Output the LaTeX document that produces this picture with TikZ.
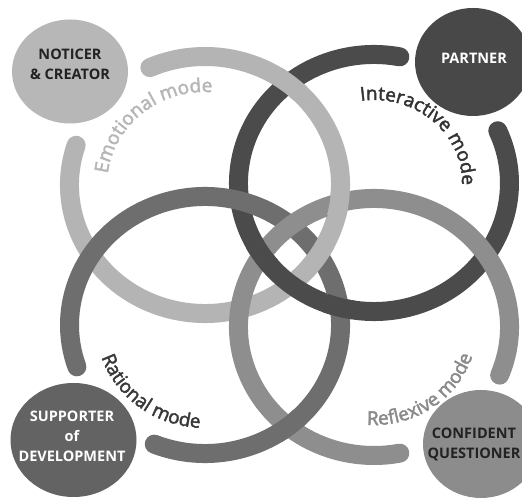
\documentclass[tikz,border=0pt]{standalone}
\usepackage{fontspec}
\setmainfont{Open Sans}
\newfontface\modeface{Open Sans}[FakeBold=2.2]
\usetikzlibrary{decorations.text}

\definecolor{emoring}{HTML}{B4B4B4}
\definecolor{intring}{HTML}{4B4B4B}
\definecolor{ratring}{HTML}{6E6E6E}
\definecolor{refring}{HTML}{8E8E8E}
\definecolor{emotext}{HTML}{B6B6B6}
\definecolor{inttext}{HTML}{333333}
\definecolor{rattext}{HTML}{383838}
\definecolor{reftext}{HTML}{8A8A8A}
\definecolor{noticerfill}{HTML}{B7B7B7}
\definecolor{partnerfill}{HTML}{484848}
\definecolor{supporterfill}{HTML}{636363}
\definecolor{confidentfill}{HTML}{8C8C8C}
\definecolor{labeldark}{HTML}{222222}

\newcommand\modefont{\modeface\fontsize{19}{19}\selectfont}

\begin{document}
\begin{tikzpicture}[x=1pt,y=1pt,
  ring/.style={line width=19pt, line cap=round},
  weave/.style={line width=19pt},
  ringshape/.style={x radius=135.5, y radius=128.5},
  cornerlabel/.style={align=center, font=\fontsize{14.5}{20}\selectfont\bfseries, inner sep=0pt},
  modelabel/.style={decorate, decoration={text along path, text align=center, text color=#1}}]

\useasboundingbox (0,0) rectangle (522,500);
\fill[white] (0,0) rectangle (522,500);

% ring centres
\coordinate (cE) at (205,315);
\coordinate (cI) at (374,317);
\coordinate (cRa) at (205,175);
\coordinate (cRf) at (374,173);

% the four rings, each open towards its corner disc
\draw[ring, emoring] (cE) ++(162:135.5 and 128.5) arc[ringshape, start angle=162, end angle=474];
\draw[ring, intring] (cI) ++(79:135.5 and 128.5) arc[ringshape, start angle=79, end angle=384];
\draw[ring, ratring] (cRa) ++(248:135.5 and 128.5) arc[ringshape, start angle=248, end angle=559];
\draw[ring, refring] (cRf) ++(338:135.5 and 128.5) arc[ringshape, start angle=338, end angle=641];

% over/under at the crossings
\begin{scope}
  \clip (289.5,416.5) circle (17);
  \draw[weave, emoring] (cE) ellipse[ringshape];
\end{scope}
\begin{scope}
  \clip (318.6,245) circle (17);
  \draw[weave, emoring] (cE) ellipse[ringshape];
\end{scope}
\begin{scope}
  \clip (339.2,297.1) circle (17);
  \draw[weave, emoring] (cE) ellipse[ringshape];
\end{scope}
\begin{scope}
  \clip (339.2,192.8) circle (17);
  \draw[weave, intring] (cI) ellipse[ringshape];
\end{scope}
\begin{scope}
  \clip (261.8,245) circle (17);
  \draw[weave, intring] (cI) ellipse[ringshape];
\end{scope}
\begin{scope}
  \clip (289.5,73.5) circle (17);
  \draw[weave, ratring] (cRa) ellipse[ringshape];
\end{scope}

% mode names along the inside of each ring
\path[modelabel=emotext, decoration={text={|\modefont|Emotional mode}}]
  (cE) ++(200:98 and 93) arc[start angle=200, end angle=60, x radius=98, y radius=93];
\path[modelabel=inttext, decoration={text={|\modefont|Interactive mode}}]
  (cI) ++(120:88 and 83) arc[start angle=120, end angle=-24, x radius=88, y radius=83];
\path[modelabel=rattext, decoration={text={|\modefont|Rational mode}}]
  (cRa) ++(165:109 and 103) arc[start angle=165, end angle=299, x radius=109, y radius=103];
\path[modelabel=reftext, decoration={text={|\modefont|Reflexive mode}}]
  (cRf) ++(240:103 and 98) arc[start angle=240, end angle=370, x radius=103, y radius=98];

% corner discs
\fill[noticerfill] (70,428.5) ellipse[x radius=58, y radius=52];
\fill[partnerfill] (473,438) ellipse[x radius=58, y radius=54];
\fill[supporterfill] (73.5,60) ellipse[x radius=63, y radius=57];
\fill[confidentfill] (481,56) ellipse[x radius=58, y radius=54];

\node[cornerlabel, text=labeldark] (noticer) at (70,436) {NOTICER\\\& CREATOR};
\node[cornerlabel, text=white] (partner) at (474,442) {PARTNER};
\node[cornerlabel, text=white] (supporter) at (72,64) {SUPPORTER\\of\\DEVELOPMENT};
\node[cornerlabel, text=labeldark] (confident) at (474,56) {CONFIDENT\\QUESTIONER};
\end{tikzpicture}
\end{document}
